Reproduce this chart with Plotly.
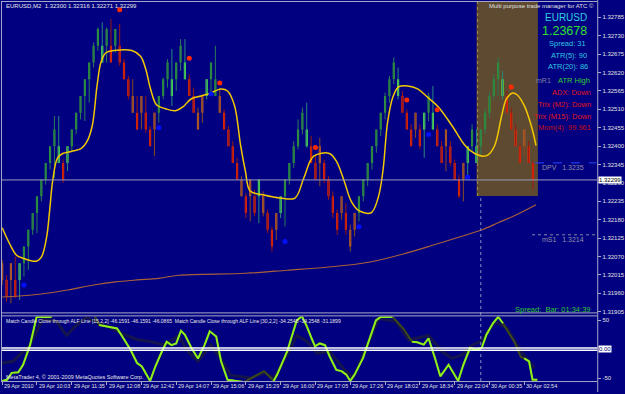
import plotly.graph_objects as go

# ---------------- data ----------------
tick_labels = ["29 Apr 2010", "29 Apr 10:03", "29 Apr 11:35", "29 Apr 12:08", "29 Apr 12:42",
               "29 Apr 14:07", "29 Apr 15:06", "29 Apr 15:29", "29 Apr 16:00", "29 Apr 17:05",
               "29 Apr 17:26", "29 Apr 18:02", "29 Apr 18:34", "29 Apr 22:04", "30 Apr 00:35",
               "30 Apr 02:54"]
tick_bars = [0, 8, 16, 24, 32, 40, 48, 56, 64, 72, 80, 88, 96, 104, 112, 120]

bar_open = [1.3205, 1.3200, 1.3200, 1.3200, 1.3200, 1.3205, 1.3210, 1.3215, 1.3220, 1.3225,
            1.3230, 1.3235, 1.3240, 1.3240, 1.3235, 1.3235, 1.3240, 1.3245, 1.3250, 1.3255,
            1.3260, 1.3265, 1.3270, 1.3270, 1.3270, 1.3270, 1.3270, 1.3270, 1.3265, 1.3260,
            1.3255, 1.3250, 1.3250, 1.3250, 1.3245, 1.3245, 1.3250, 1.3255, 1.3260, 1.3260,
            1.3260, 1.3265, 1.3265, 1.3260, 1.3255, 1.3250, 1.3250, 1.3255, 1.3260, 1.3260,
            1.3255, 1.3250, 1.3245, 1.3240, 1.3235, 1.3230, 1.3225, 1.3225, 1.3225, 1.3225,
            1.3225, 1.3220, 1.3215, 1.3215, 1.3220, 1.3225, 1.3230, 1.3235, 1.3240, 1.3245,
            1.3245, 1.3240, 1.3235, 1.3235, 1.3235, 1.3230, 1.3225, 1.3220, 1.3220, 1.3220,
            1.3215, 1.3215, 1.3220, 1.3225, 1.3230, 1.3235, 1.3240, 1.3245, 1.3250, 1.3255,
            1.3260, 1.3260, 1.3255, 1.3250, 1.3245, 1.3245, 1.3245, 1.3245, 1.3250, 1.3250,
            1.3245, 1.3240, 1.3240, 1.3240, 1.3235, 1.3230, 1.3230, 1.3235, 1.3240, 1.3240,
            1.3240, 1.3245, 1.3250, 1.3255, 1.3260, 1.3260, 1.3255, 1.3250, 1.3245, 1.3240,
            1.3240, 1.3240, 1.3235]
bar_close = [1.3200, 1.3195, 1.3205, 1.3195, 1.3205, 1.3210, 1.3215, 1.3220, 1.3225, 1.3230,
             1.3235, 1.3240, 1.3245, 1.3235, 1.3230, 1.3240, 1.3245, 1.3250, 1.3255, 1.3260,
             1.3265, 1.3270, 1.3275, 1.3265, 1.3275, 1.3265, 1.3275, 1.3265, 1.3260, 1.3255,
             1.3250, 1.3245, 1.3255, 1.3245, 1.3240, 1.3250, 1.3255, 1.3260, 1.3265, 1.3255,
             1.3265, 1.3270, 1.3260, 1.3255, 1.3250, 1.3245, 1.3255, 1.3260, 1.3265, 1.3255,
             1.3250, 1.3245, 1.3240, 1.3235, 1.3230, 1.3225, 1.3220, 1.3230, 1.3220, 1.3230,
             1.3220, 1.3215, 1.3210, 1.3220, 1.3225, 1.3230, 1.3235, 1.3240, 1.3245, 1.3250,
             1.3240, 1.3235, 1.3230, 1.3240, 1.3230, 1.3225, 1.3220, 1.3215, 1.3225, 1.3215,
             1.3210, 1.3220, 1.3225, 1.3230, 1.3235, 1.3240, 1.3245, 1.3250, 1.3255, 1.3260,
             1.3265, 1.3255, 1.3250, 1.3245, 1.3240, 1.3250, 1.3240, 1.3250, 1.3255, 1.3245,
             1.3240, 1.3235, 1.3245, 1.3235, 1.3230, 1.3225, 1.3235, 1.3240, 1.3245, 1.3235,
             1.3245, 1.3250, 1.3255, 1.3260, 1.3265, 1.3255, 1.3250, 1.3245, 1.3240, 1.3235,
             1.3245, 1.3235, 1.32299]
bar_high = [1.32060, 1.32015, 1.32050, 1.32070, 1.32050, 1.32100, 1.32150, 1.32200, 1.32250, 1.32300,
            1.32350, 1.32400, 1.32490, 1.32490, 1.32360, 1.32400, 1.32450, 1.32500, 1.32550, 1.32600,
            1.32650, 1.32710, 1.32755, 1.32770, 1.32755, 1.32780, 1.32750, 1.32765, 1.32660, 1.32610,
            1.32600, 1.32550, 1.32550, 1.32550, 1.32460, 1.32500, 1.32550, 1.32605, 1.32660, 1.32690,
            1.32650, 1.32720, 1.32720, 1.32615, 1.32575, 1.32515, 1.32550, 1.32600, 1.32650, 1.32700,
            1.32575, 1.32510, 1.32460, 1.32415, 1.32365, 1.32310, 1.32260, 1.32300, 1.32270, 1.32300,
            1.32265, 1.32210, 1.32160, 1.32200, 1.32250, 1.32300, 1.32350, 1.32415, 1.32480, 1.32515,
            1.32530, 1.32430, 1.32370, 1.32425, 1.32360, 1.32310, 1.32265, 1.32210, 1.32250, 1.32230,
            1.32165, 1.32200, 1.32250, 1.32300, 1.32350, 1.32400, 1.32450, 1.32500, 1.32560, 1.32610,
            1.32665, 1.32635, 1.32565, 1.32510, 1.32465, 1.32500, 1.32465, 1.32500, 1.32560, 1.32580,
            1.32465, 1.32415, 1.32450, 1.32415, 1.32360, 1.32315, 1.32350, 1.32400, 1.32465, 1.32450,
            1.32450, 1.32510, 1.32560, 1.32615, 1.32665, 1.32625, 1.32565, 1.32515, 1.32465, 1.32410,
            1.32450, 1.32415, 1.32355]
bar_low = [1.31985, 1.31935, 1.31930, 1.31945, 1.31940, 1.32010, 1.32030, 1.32135, 1.32140, 1.32235,
           1.32285, 1.32330, 1.32305, 1.32350, 1.32290, 1.32325, 1.32385, 1.32435, 1.32480, 1.32475,
           1.32530, 1.32635, 1.32685, 1.32650, 1.32650, 1.32650, 1.32680, 1.32640, 1.32600, 1.32540,
           1.32500, 1.32450, 1.32450, 1.32440, 1.32400, 1.32370, 1.32470, 1.32540, 1.32575, 1.32520,
           1.32565, 1.32625, 1.32600, 1.32550, 1.32500, 1.32450, 1.32470, 1.32540, 1.32550, 1.32550,
           1.32500, 1.32450, 1.32400, 1.32350, 1.32300, 1.32250, 1.32185, 1.32175, 1.32190, 1.32170,
           1.32190, 1.32140, 1.32085, 1.32120, 1.32185, 1.32160, 1.32285, 1.32335, 1.32390, 1.32435,
           1.32395, 1.32350, 1.32300, 1.32280, 1.32290, 1.32240, 1.32185, 1.32135, 1.32180, 1.32135,
           1.32085, 1.32130, 1.32175, 1.32235, 1.32280, 1.32330, 1.32380, 1.32430, 1.32480, 1.32530,
           1.32585, 1.32540, 1.32500, 1.32450, 1.32400, 1.32425, 1.32390, 1.32365, 1.32475, 1.32450,
           1.32400, 1.32350, 1.32325, 1.32340, 1.32300, 1.32245, 1.32235, 1.32310, 1.32385, 1.32350,
           1.32375, 1.32435, 1.32485, 1.32540, 1.32550, 1.32540, 1.32500, 1.32450, 1.32400, 1.32350,
           1.32375, 1.32350, 1.32271]
# colour-trend signal of the bar-painting indicator (2 strong up, 1 up, -1 down, -2 weak down)
bar_signal = [-2, -1, -2, -1, 2, 1, 1, 1, 1, 1,
              1, 1, 1, 2, -1, 2, 1, 1, 1, 1,
              1, 1, 1, 2, 1, -1, 1, -1, -1, -1,
              -2, -1, -2, -1, -1, -2, 1, 1, 1, 2,
              1, 1, 2, -1, -1, -2, -2, 2, 1, 1,
              -2, -1, -1, -1, -1, -2, -1, -2, -1, 2,
              -2, -1, -1, -2, 2, 1, 1, 1, 1, 1,
              2, -1, -1, -2, -1, -1, -1, -1, -2, -1,
              -2, -2, 1, 1, 1, 1, 1, 1, 1, 1,
              1, 2, -1, -1, -1, -2, -1, 2, 1, 2,
              -1, -1, -2, -1, -1, -1, -2, 2, 1, 2,
              1, 1, 1, 1, 1, 2, -1, -1, -1, -1,
              -2, -1, -1]

yellow_x = [0, 1.8, 3.3, 4.8, 7.9, 9, 10.2, 10.9, 11.6, 12.7, 13.9, 15.9, 18.2, 19.5, 20.7, 21.8,
            22.7, 23.9, 25.7, 29.8, 31.8, 33, 34.1, 35.5, 37.5, 39.8, 41.6, 43.4, 45.7, 48, 50.2,
            51.8, 53.4, 54.8, 55.9, 57, 60.2, 63.9, 67.3, 69.3, 71.6, 75.2, 76.8, 78.6, 80.2, 82,
            84.8, 86.4, 87.5, 88.6, 89.8, 91.1, 93.2, 95.5, 97.7, 100.2, 103.4, 106.4, 108.6,
            110.5, 111.6, 113.2, 114.8, 115.9, 117.3, 118.4, 120, 121.6, 122.7]
yellow_y = [1.32156, 1.32106, 1.32074, 1.32065, 1.32056, 1.32068, 1.32127, 1.32207, 1.32296,
            1.32364, 1.32378, 1.32384, 1.32393, 1.32414, 1.32461, 1.32580, 1.32651, 1.32680,
            1.32686, 1.32686, 1.32669, 1.32630, 1.32571, 1.32523, 1.32512, 1.32506, 1.32518,
            1.32541, 1.32550, 1.32559, 1.32571, 1.32565, 1.32521, 1.32402, 1.32325, 1.32266,
            1.32254, 1.32245, 1.32245, 1.32304, 1.32370, 1.32378, 1.32355, 1.32296, 1.32236,
            1.32207, 1.32201, 1.32245, 1.32325, 1.32473, 1.32547, 1.32577, 1.32580, 1.32571,
            1.32547, 1.32518, 1.32461, 1.32402, 1.32378, 1.32370, 1.32373, 1.32402, 1.32491,
            1.32541, 1.32559, 1.32553, 1.32521, 1.32461, 1.32402]

slow_ma_x = [0, 4, 9, 15, 21, 26, 31, 36, 40.5, 56, 65.5, 74.5, 84.3, 92, 99.5, 107, 110.5,
             114, 117.7, 122.7]
slow_ma_y = [1.31949, 1.31952, 1.31958, 1.31970, 1.31985, 1.31994, 1.32000, 1.32005, 1.32014,
             1.32020, 1.32029, 1.32038, 1.32053, 1.32077, 1.32106, 1.32136, 1.32151, 1.32171,
             1.32192, 1.32225]

fractal_up_x = [27, 43, 50, 72, 93, 100, 117]
fractal_up_y = [1.32808, 1.32663, 1.32589, 1.32396, 1.32538, 1.32509, 1.32577]
fractal_dn_x = [5, 36, 48, 65, 82, 98, 107]
fractal_dn_y = [1.31985, 1.32455, 1.32556, 1.32115, 1.32159, 1.32435, 1.32307]

osc_x = [0, 1.1, 2.2, 3.7, 4.8, 6.4, 7.9, 11.3, 13, 17, 21, 22.3, 23.8, 26.4, 27.6, 29.5, 31,
         32.1, 34, 35.2, 36.7, 37.8, 38.9, 40, 41.1, 42, 43.5, 45, 46.5, 47.7, 49.2, 50.3, 51.8,
         55.6, 60.2, 62.4, 63.2, 65.5, 67.7, 68.9, 70, 71.1, 71.9, 73, 74.2, 75.3, 76.8, 78,
         79.1, 80, 81, 82.9, 84.4, 85.9, 87, 89.7, 90.5, 92.3, 94.2, 95.4, 96.9, 98, 99.5,
         100.7, 102.6, 103.3, 104.8, 106, 107.5, 109, 110.2, 111.3, 112.8, 114, 115.1, 116.2,
         117.7, 119.2, 120, 121.1, 121.9, 123]
osc_v = [-55, -53, -41, -40, -27, 7, 56, 56, 68, 70, 62, 42, 40, 36, 22, -1, -24,
         -30, -55, -30, -4, 13, 7, 10, 32, 25, 2, -16, 7, 31, 22, -21, -53,
         -57, -38, -55, -44, -4, 50, 57, 40, 19, 5, 10, 7, -13, -36, -38,
         -44, -55, -44, -16, 19, 50, 56, 56, 50, 35, 13, 12, 8, 19, -16,
         -47, -27, -36, -55, -27, 2, -1, 2, 25, 45, 56, 45, 31,
         13, -13, -16, -21, -53, -53]
osc_on = [1, 1, 1, 1, 1, 1, 1, 1, 0, 0, 0, 1, 1, 1, 1, 1, 1,
          1, 1, 1, 1, 1, 1, 1, 1, 1, 1, 1, 1, 1, 1, 1, 1,
          1, 0, 1, 1, 1, 1, 1, 1, 1, 1, 1, 1, 1, 1, 1,
          1, 1, 1, 1, 1, 1, 1, 1, 0, 0, 1, 1, 1, 1, 1,
          1, 1, 1, 1, 1, 1, 1, 1, 1, 1, 1, 1, 0,
          0, 0, 1, 1, 1, 1]

osc_slow_x = [0, 2.5, 6.4, 9.3, 12.5, 14.8, 17, 19.3, 22.3, 25.2, 28.4, 31.4, 33.6, 37.5, 40.5,
              42.7, 45, 48, 50.2, 52.5, 57, 60.2, 62.5, 65.5, 67.7, 70, 72.3, 75.2, 78.4, 80.7,
              83.6, 86.6, 90.5, 93.4, 98, 101.1, 103.4, 105.7, 108, 110.2, 113.2, 116.1, 119.3,
              122.3]
osc_slow_v = [-24, -21, 7, 53, 48, 24, 41, 55, 45, 36, 24, 16, 14, 7, 24,
              -4, -21, 7, -16, -45, -50, -41, -50, -10, 24, 14, -7, -4, -33, -50,
              2, 53, 48, 16, 24, -4, -16, -10, 7, 14, 48, 36, -4,
              -33]

bid = 1.32299
dpv_level = 1.3235
ms1_level = 1.32135
day_break_bar = 110
zero_band = [2, -2]
price_ticks = [1.31905, 1.31960, 1.32015, 1.32070, 1.32125, 1.32180, 1.32235, 1.32290,
               1.32345, 1.32400, 1.32455, 1.32510, 1.32565, 1.32620, 1.32675, 1.32730, 1.32785]
osc_ticks = [50, 0, -50]
osc_tick_text = ["50", "0.00", "-50"]

# ---------------- styling ----------------
W, H = 625, 394
BG = "#000080"
FONT = "Liberation Sans"
LX0, LX1 = 2, 604        # plot left/right in px
MAIN_T, MAIN_B = 3, 314  # main panel top/bottom px
IND_T, IND_B = 318, 383  # indicator panel px
X_RANGE = [-0.05, (LX1 - LX0) / 4.4 - 0.05]


def fx(p):
    return p / W


def fy(p):
    return 1 - p / H


body_col = {2: "#5cf53a", 1: "#2e9c2e", -1: "#ff2a00", -2: "#c8602a"}
wick_col = {2: "#2a8a7a", 1: "#2a7a55", -1: "#9a1a10", -2: "#8a4a20"}

fig = go.Figure()

# wicks
for s in [2, 1, -1, -2]:
    wx, wy = [], []
    for i, sg in enumerate(bar_signal):
        if sg == s:
            wx += [i, i, None]
            wy += [bar_low[i], bar_high[i], None]
    fig.add_trace(go.Scatter(x=wx, y=wy, mode="lines", line=dict(color=wick_col[s], width=1),
                             hoverinfo="skip", showlegend=False, xaxis="x", yaxis="y"))

# bodies
idx = list(range(len(bar_open)))
fig.add_trace(go.Bar(
    x=idx,
    y=[abs(c - o) for o, c in zip(bar_open, bar_close)],
    base=[min(o, c) for o, c in zip(bar_open, bar_close)],
    width=0.5,
    marker=dict(color=[body_col[s] for s in bar_signal], line=dict(width=0)),
    showlegend=False, xaxis="x", yaxis="y"))

# slow MA
fig.add_trace(go.Scatter(x=slow_ma_x, y=slow_ma_y, mode="lines", line=dict(color="#a8603a", width=1.2, shape="spline"),
                         showlegend=False, xaxis="x", yaxis="y"))
# yellow smooth line
fig.add_trace(go.Scatter(x=yellow_x, y=yellow_y, mode="lines", line=dict(color="#f2c800", width=1.5, shape="spline"),
                         showlegend=False, xaxis="x", yaxis="y"))
# fractals
fig.add_trace(go.Scatter(x=fractal_up_x, y=fractal_up_y, mode="markers", marker=dict(color="#ff2a00", size=5),
                         showlegend=False, xaxis="x", yaxis="y"))
fig.add_trace(go.Scatter(x=fractal_dn_x, y=fractal_dn_y, mode="markers", marker=dict(color="#0010ff", size=5),
                         showlegend=False, xaxis="x", yaxis="y"))

# oscillator
fig.add_trace(go.Scatter(x=osc_slow_x, y=osc_slow_v, mode="lines", line=dict(color="#15154e", width=3),
                         showlegend=False, xaxis="x2", yaxis="y2"))
fig.add_trace(go.Scatter(x=osc_x, y=osc_v, mode="lines", line=dict(color="#3d4a18", width=2),
                         showlegend=False, xaxis="x2", yaxis="y2"))
lime_v = [v if on else None for v, on in zip(osc_v, osc_on)]
fig.add_trace(go.Scatter(x=osc_x, y=lime_v, mode="lines", line=dict(color="#8cf01e", width=2),
                         connectgaps=False, showlegend=False, xaxis="x2", yaxis="y2"))

FRAME = "#a8a8c8"
shapes = [
    # trade-manager hatched panel
    dict(type="rect", xref="paper", yref="paper", x0=fx(482), x1=fx(544), y0=fy(197), y1=fy(2),
         fillcolor="#5e4a30", line=dict(width=0), layer="below"),
    dict(type="line", xref="paper", yref="paper", x0=fx(483), x1=fx(483), y0=fy(197), y1=fy(2),
         line=dict(color="#a09040", width=1, dash="dot")),
    # bid line
    dict(type="line", xref="paper", yref="y", x0=fx(LX0), x1=fx(LX1), y0=bid, y1=bid,
         line=dict(color="#9a9ab8", width=1)),
    # pivot lines
    dict(type="line", xref="paper", yref="y", x0=fx(541), x1=fx(603), y0=dpv_level, y1=dpv_level,
         line=dict(color="#2848ff", width=1, dash="dash")),
    dict(type="line", xref="paper", yref="y", x0=fx(538), x1=fx(603), y0=ms1_level, y1=ms1_level,
         line=dict(color="#8888a8", width=1, dash="dot")),
    # day separator
    dict(type="line", xref="x", yref="paper", x0=day_break_bar, x1=day_break_bar, y0=fy(IND_B), y1=fy(197),
         line=dict(color="#9090c8", width=1, dash="dot")),
    # frame
    dict(type="line", xref="paper", yref="paper", x0=fx(1.5), x1=fx(1.5), y0=fy(IND_B), y1=fy(1),
         line=dict(color=FRAME, width=1)),
    dict(type="line", xref="paper", yref="paper", x0=fx(1), x1=fx(LX1), y0=fy(1.5), y1=fy(1.5),
         line=dict(color=FRAME, width=1)),
    dict(type="line", xref="paper", yref="paper", x0=fx(LX1 + 0.5), x1=fx(LX1 + 0.5), y0=0, y1=1,
         line=dict(color=FRAME, width=1)),
    dict(type="line", xref="paper", yref="paper", x0=fx(1), x1=fx(LX1), y0=fy(MAIN_B + 0.5), y1=fy(MAIN_B + 0.5),
         line=dict(color=FRAME, width=1)),
    dict(type="line", xref="paper", yref="paper", x0=fx(1), x1=fx(LX1), y0=fy(IND_T - 0.5), y1=fy(IND_T - 0.5),
         line=dict(color=FRAME, width=1)),
    dict(type="line", xref="paper", yref="paper", x0=fx(1), x1=fx(LX1), y0=fy(IND_B + 0.5), y1=fy(IND_B + 0.5),
         line=dict(color=FRAME, width=1)),
]
for z in zero_band:
    shapes.append(dict(type="line", xref="paper", yref="y2", x0=fx(LX0), x1=fx(LX1), y0=z, y1=z,
                       line=dict(color="#ffffff", width=1.5)))

anns = []


def txt(x, y, s, size=6, color="#e0e0e0", xa="left", **kw):
    anns.append(dict(x=fx(x), y=fy(y), xref="paper", yref="paper", text=s, showarrow=False,
                     xanchor=xa, yanchor="middle", font=dict(family=FONT, size=size, color=color), **kw))


txt(4, 6, "EURUSD,M2  1.32300 1.32316 1.32271 1.32299", 6, "#e8e8e8")
txt(603, 6, "Multi purpose trade manager for ATC ©", 6, "#e0e0e0", xa="right")
txt(572, 18, "EURUSD", 10, "#30d0e0", xa="center")
txt(571, 31, "1.23678", 12.5, "#30e030", xa="center")
txt(574, 44, "Spread: 31", 7.5, "#30c8e0", xa="center")
txt(575, 56, "ATR(5): 90", 7.5, "#30c8e0", xa="center")
txt(574, 67, "ATR(20): 86", 7.5, "#30c8e0", xa="center")
txt(540, 81, "mR1", 7, "#8080a0")
txt(580, 81, "ATR High", 7.5, "#30d030", xa="center")
txt(600, 93, "ADX: Down", 7.5, "#e01818", xa="right")
txt(600, 105, "Trix (M2): Down", 7.5, "#e01818", xa="right")
txt(600, 117, "Trix (M15): Down", 7.5, "#e01818", xa="right")
txt(600, 128, "Mom(4): 99.961", 7.5, "#c81010", xa="right")
txt(546, 168, "DPV   1.3235", 7, "#9090a8")
txt(546, 241, "mS1   1.3214", 7, "#9090a8")
txt(519, 311, "Spread:  Bar: 01:34:39", 7.5, "#30c830")
txt(4, 323, "Match Candle Close through ALF Line [15,2,2] -46.1591 -46.1591 -46.0865  "
             "Match Candle Close through ALF Line [30,2,2] -34.2548 -34.2548 -31.1899", 5, "#e8e8e8")
txt(4, 379, "MetaTrader 4, © 2001-2009 MetaQuotes Software Corp.", 5.5, "#e8e8e8")

# current price box
anns.append(dict(x=fx(605), y=bid, xref="paper", yref="y", text="1.32299", showarrow=False,
                 xanchor="left", yanchor="middle", bgcolor="#ffffff", borderpad=0,
                 font=dict(family=FONT, size=6, color="#000000")))
# oscillator zero-level box
anns.append(dict(x=fx(605), y=osc_ticks[1], xref="paper", yref="y2", text=osc_tick_text[1], showarrow=False,
                 xanchor="left", yanchor="middle", bgcolor="#ffffff", borderpad=0,
                 font=dict(family=FONT, size=6, color="#000080")))

# time labels
for tb, tl in zip(tick_bars, tick_labels):
    anns.append(dict(x=tb, y=fy(388), xref="x2", yref="paper", text=tl, showarrow=False,
                     xanchor="left", yanchor="middle",
                     font=dict(family=FONT, size=5.5, color="#e0e0e0")))

fig.update_layout(
    width=W, height=H, margin=dict(l=0, r=0, t=0, b=0),
    paper_bgcolor=BG, plot_bgcolor=BG, showlegend=False, barmode="overlay",
    shapes=shapes, annotations=anns,
    xaxis=dict(domain=[fx(LX0), fx(LX1)], range=X_RANGE, anchor="y", showgrid=False, zeroline=False,
               showticklabels=False, ticks=""),
    yaxis=dict(domain=[fy(MAIN_B), fy(MAIN_T)], range=[1.31903, 1.32828], anchor="x", side="right",
               showgrid=False, zeroline=False, tickvals=price_ticks, tickformat=".5f",
               ticks="outside", ticklen=3, tickcolor=FRAME,
               tickfont=dict(family=FONT, size=6, color="#e0e0e0")),
    xaxis2=dict(domain=[fx(LX0), fx(LX1)], range=X_RANGE, anchor="y2", showgrid=False, zeroline=False,
                showticklabels=False, tickvals=tick_bars, ticks="outside", ticklen=3, tickcolor=FRAME),
    yaxis2=dict(domain=[fy(IND_B), fy(IND_T)], range=[-55.2, 56.9], anchor="x2", side="right",
                showgrid=False, zeroline=False, tickvals=[osc_ticks[0], osc_ticks[2]],
                ticktext=[osc_tick_text[0], osc_tick_text[2]],
                ticks="outside", ticklen=3, tickcolor=FRAME,
                tickfont=dict(family=FONT, size=6, color="#e0e0e0")),
)

fig.write_html("out.html")
